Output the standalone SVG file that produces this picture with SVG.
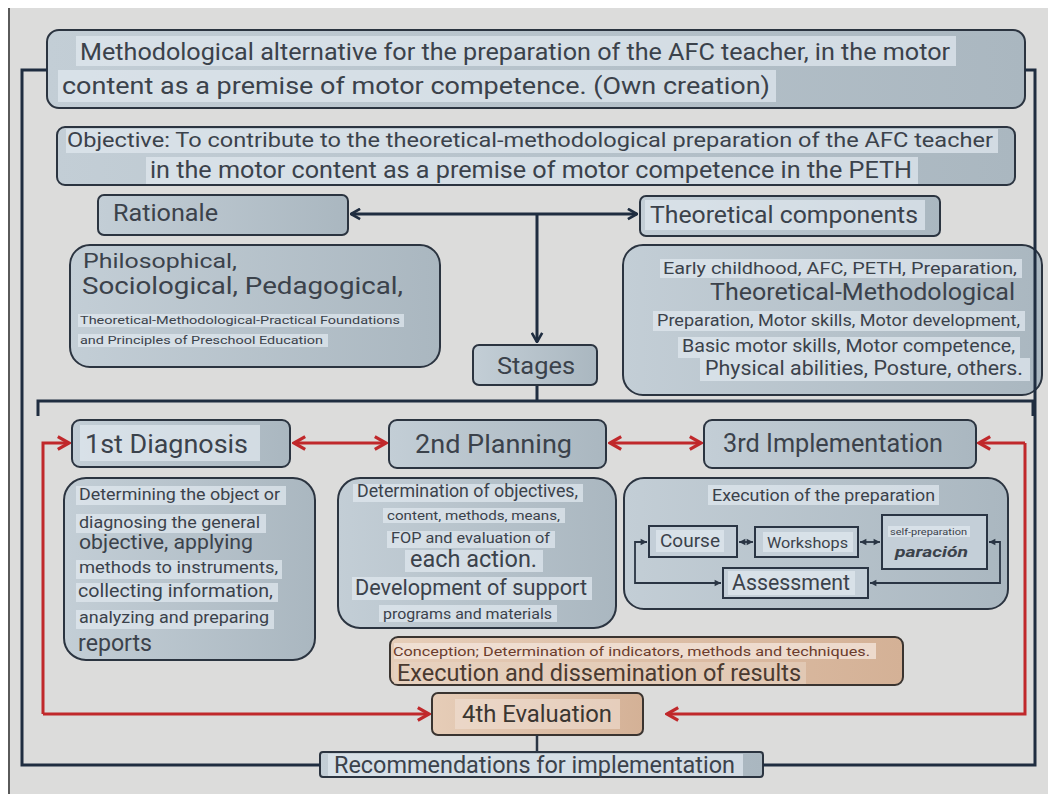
<svg xmlns="http://www.w3.org/2000/svg" width="1054" height="794" viewBox="0 0 1054 794">
<defs>
<linearGradient id="gb" x1="0" y1="0" x2="1" y2="0">
<stop offset="0" stop-color="#c3ced6"/><stop offset="1" stop-color="#aab7c0"/>
</linearGradient>
<linearGradient id="gp" x1="0" y1="0" x2="1" y2="0">
<stop offset="0" stop-color="#e6cdb8"/><stop offset="1" stop-color="#d4b196"/>
</linearGradient>
<marker id="ad" viewBox="0 0 10 10" refX="9" refY="5" markerWidth="13" markerHeight="13" orient="auto-start-reverse" markerUnits="userSpaceOnUse">
<path d="M2,1 L9,5 L2,9" fill="none" stroke="#1f2d40" stroke-width="2"/>
</marker>
<marker id="ar" viewBox="0 0 10 10" refX="9" refY="5" markerWidth="16" markerHeight="16" orient="auto-start-reverse" markerUnits="userSpaceOnUse">
<path d="M2,1 L9,5 L2,9" fill="none" stroke="#c0282b" stroke-width="2"/>
</marker>
<marker id="as" viewBox="0 0 10 10" refX="9" refY="5" markerWidth="8" markerHeight="8" orient="auto-start-reverse" markerUnits="userSpaceOnUse">
<path d="M1,1 L9,5 L1,9 Z" fill="#2a3544"/>
</marker>
</defs>
<style>
text{font-family:Roboto,"Liberation Sans",sans-serif;fill:#3b424b}
.box{fill:url(#gb);stroke:#2b3440;stroke-width:2}
.pch{fill:url(#gp);stroke:#3a3430;stroke-width:2}
.inner{fill:#c4cfd8;stroke:#2a3544;stroke-width:2}
.nav{fill:none;stroke:#1f2d40;stroke-width:3}
.red{fill:none;stroke:#c0282b;stroke-width:3}
.thin{fill:none;stroke:#2a3544;stroke-width:1.8}
.hl{fill:#dfe7ee;opacity:0.75}
.c{text-anchor:middle}
.r{text-anchor:end}
</style>
<rect x="0" y="0" width="1054" height="794" fill="#ffffff"/>
<rect x="8" y="8" width="1040" height="786" fill="#dcdcdb"/>
<line x1="9" y1="8" x2="9" y2="794" stroke="#5a5a5a" stroke-width="2"/>

<g id="title">
<rect class="box" x="47" y="30" width="978" height="78" rx="12"/>
<rect class="hl" x="76" y="36" width="880" height="30"/>
<rect class="hl" x="58" y="70" width="718" height="32"/>
<text x="80" y="60" font-size="24" textLength="870" lengthAdjust="spacingAndGlyphs">Methodological alternative for the preparation of the AFC teacher, in the motor</text>
<text x="62" y="94" font-size="24" textLength="708" lengthAdjust="spacingAndGlyphs">content as a premise of motor competence. (Own creation)</text>
</g>

<g id="objective">
<rect class="box" x="57" y="127" width="958" height="58" rx="8"/>
<rect class="hl" x="66" y="129" width="932" height="24"/>
<rect class="hl" x="146" y="157" width="772" height="27"/>
<text x="67" y="147" font-size="21" textLength="926" lengthAdjust="spacingAndGlyphs">Objective: To contribute to the theoretical-methodological preparation of the AFC teacher</text>
<text x="150" y="178" font-size="23" textLength="762" lengthAdjust="spacingAndGlyphs">in the motor content as a premise of motor competence in the PETH</text>
</g>

<g id="rationale">
<rect class="box" x="98" y="195" width="250" height="40" rx="6"/>
<text x="113" y="221" font-size="23" textLength="105" lengthAdjust="spacingAndGlyphs">Rationale</text>
</g>

<g id="theoretical-components">
<rect class="box" x="640" y="196" width="300" height="40" rx="6"/>
<rect class="hl" x="645" y="200" width="280" height="30"/>
<text x="650" y="223" font-size="23" textLength="268" lengthAdjust="spacingAndGlyphs">Theoretical components</text>
</g>

<g id="foundations">
<rect class="box" x="70" y="245" width="370" height="122" rx="20"/>
<text x="83" y="268" font-size="21" textLength="154" lengthAdjust="spacingAndGlyphs">Philosophical,</text>
<text x="82" y="294" font-size="24" textLength="321" lengthAdjust="spacingAndGlyphs">Sociological, Pedagogical,</text>
<rect class="hl" x="78" y="314" width="326" height="13"/>
<rect class="hl" x="78" y="334" width="250" height="13"/>
<text x="80" y="324" font-size="10" textLength="320" lengthAdjust="spacingAndGlyphs">Theoretical-Methodological-Practical Foundations</text>
<text x="80" y="344" font-size="10" textLength="243" lengthAdjust="spacingAndGlyphs">and Principles of Preschool Education</text>
</g>

<g id="components">
<rect class="box" x="623" y="245" width="419" height="150" rx="20"/>
<rect class="hl" x="660" y="259" width="362" height="19"/>
<rect class="hl" x="653" y="311" width="372" height="20"/>
<rect class="hl" x="678" y="337" width="342" height="21"/>
<rect class="hl" x="700" y="358" width="330" height="23"/>
<text class="r" x="1017" y="274" font-size="16" textLength="354" lengthAdjust="spacingAndGlyphs">Early childhood, AFC, PETH, Preparation,</text>
<text class="r" x="1015" y="300" font-size="23" textLength="305" lengthAdjust="spacingAndGlyphs">Theoretical-Methodological</text>
<text class="r" x="1020" y="326" font-size="17" textLength="363" lengthAdjust="spacingAndGlyphs">Preparation, Motor skills, Motor development,</text>
<text class="r" x="1015" y="352" font-size="18" textLength="333" lengthAdjust="spacingAndGlyphs">Basic motor skills, Motor competence,</text>
<text class="r" x="1023" y="375" font-size="21" textLength="318" lengthAdjust="spacingAndGlyphs">Physical abilities, Posture, others.</text>
</g>

<g id="stages">
<rect class="box" x="473" y="345" width="124" height="40" rx="6"/>
<text x="497" y="374" font-size="23" textLength="78" lengthAdjust="spacingAndGlyphs">Stages</text>
</g>

<g id="diagnosis">
<rect class="box" x="72" y="420" width="218" height="47" rx="8"/>
<rect class="hl" x="80" y="425" width="180" height="36"/>
<text x="85" y="453" font-size="26" textLength="163" lengthAdjust="spacingAndGlyphs">1st Diagnosis</text>
</g>

<g id="planning">
<rect class="box" x="389" y="420" width="217" height="48" rx="8"/>
<text x="415" y="453" font-size="26" textLength="157" lengthAdjust="spacingAndGlyphs">2nd Planning</text>
</g>

<g id="implementation">
<rect class="box" x="704" y="420" width="272" height="48" rx="8"/>
<text x="723" y="452" font-size="25" textLength="220" lengthAdjust="spacingAndGlyphs">3rd Implementation</text>
</g>

<g id="diagnosis-content">
<rect class="box" x="64" y="478" width="251" height="182" rx="22"/>
<rect class="hl" x="76" y="486" width="210" height="19"/>
<rect class="hl" x="76" y="514" width="190" height="19"/>
<rect class="hl" x="76" y="560" width="206" height="19"/>
<rect class="hl" x="76" y="583" width="202" height="19"/>
<rect class="hl" x="76" y="610" width="198" height="19"/>
<text x="79" y="500" font-size="17" textLength="201" lengthAdjust="spacingAndGlyphs">Determining the object or</text>
<text x="79" y="528" font-size="17" textLength="181" lengthAdjust="spacingAndGlyphs">diagnosing the general</text>
<text x="79" y="549" font-size="21" textLength="174" lengthAdjust="spacingAndGlyphs">objective, applying</text>
<text x="79" y="573" font-size="17" textLength="199" lengthAdjust="spacingAndGlyphs">methods to instruments,</text>
<text x="78" y="597" font-size="19" textLength="195" lengthAdjust="spacingAndGlyphs">collecting information,</text>
<text x="79" y="623" font-size="17" textLength="190" lengthAdjust="spacingAndGlyphs">analyzing and preparing</text>
<text x="78" y="651" font-size="23" textLength="74" lengthAdjust="spacingAndGlyphs">reports</text>
</g>

<g id="planning-content">
<rect class="box" x="338" y="478" width="278" height="150" rx="22"/>
<rect class="hl" x="353" y="484" width="230" height="18"/>
<rect class="hl" x="383" y="508" width="182" height="15"/>
<rect class="hl" x="387" y="531" width="168" height="17"/>
<rect class="hl" x="405" y="550" width="138" height="22"/>
<rect class="hl" x="352" y="577" width="240" height="23"/>
<rect class="hl" x="379" y="605" width="178" height="17"/>
<text x="357" y="497" font-size="18" textLength="221" lengthAdjust="spacingAndGlyphs">Determination of objectives,</text>
<text x="387" y="520" font-size="13" textLength="173" lengthAdjust="spacingAndGlyphs">content, methods, means,</text>
<text x="391" y="543" font-size="15" textLength="159" lengthAdjust="spacingAndGlyphs">FOP and evaluation of</text>
<text x="410" y="567" font-size="24" textLength="127" lengthAdjust="spacingAndGlyphs">each action.</text>
<text x="355" y="595" font-size="22" textLength="232" lengthAdjust="spacingAndGlyphs">Development of support</text>
<text x="383" y="619" font-size="14" textLength="169" lengthAdjust="spacingAndGlyphs">programs and materials</text>
</g>

<g id="implementation-content">
<rect class="box" x="624" y="478" width="384" height="131" rx="20"/>
<rect class="hl" x="708" y="485" width="231" height="20"/>
<text x="712" y="501" font-size="17" textLength="223" lengthAdjust="spacingAndGlyphs">Execution of the preparation</text>
</g>

<g id="course">
<rect class="inner" x="649" y="526" width="88" height="31"/>
<rect class="hl" x="656" y="530" width="68" height="22"/>
<text x="660" y="547" font-size="19" textLength="60" lengthAdjust="spacingAndGlyphs">Course</text>
</g>
<g id="workshops">
<rect class="inner" x="755" y="527" width="103" height="30"/>
<rect class="hl" x="763" y="532" width="90" height="20"/>
<text x="767" y="548" font-size="15" textLength="81" lengthAdjust="spacingAndGlyphs">Workshops</text>
</g>
<g id="self-preparation">
<rect class="inner" x="882" y="515" width="105" height="54"/>
<rect class="hl" x="888" y="526" width="82" height="11"/>
<text x="890" y="535" font-size="9" textLength="77" lengthAdjust="spacingAndGlyphs">self-preparation</text>
<text x="895" y="557" font-size="14" font-style="italic" font-weight="bold" textLength="73" lengthAdjust="spacingAndGlyphs">paración</text>
</g>
<g id="assessment">
<rect class="inner" x="723" y="568" width="145" height="30"/>
<rect class="hl" x="728" y="571" width="127" height="24"/>
<text x="732" y="590" font-size="22" textLength="118" lengthAdjust="spacingAndGlyphs">Assessment</text>
</g>

<g id="evaluation-content">
<rect class="pch" x="390" y="637" width="513" height="48" rx="8"/>
<rect x="394" y="643" width="482" height="16" fill="#f2e4da" opacity="0.8"/>
<rect x="394" y="662" width="412" height="22" fill="#e8d3c3" opacity="0.6"/>
<text x="393" y="656" font-size="13" style="fill:#6b3c2c" textLength="477" lengthAdjust="spacingAndGlyphs">Conception; Determination of indicators, methods and techniques.</text>
<text x="397" y="681" font-size="23" style="fill:#4a3a30" textLength="404" lengthAdjust="spacingAndGlyphs">Execution and dissemination of results</text>
</g>

<g id="evaluation">
<rect class="pch" x="432" y="693" width="211" height="42" rx="6"/>
<rect x="455" y="699" width="165" height="30" fill="#f0dfd3" opacity="0.6"/>
<text x="462" y="722" font-size="23" style="fill:#3b3631" textLength="150" lengthAdjust="spacingAndGlyphs">4th Evaluation</text>
</g>

<g id="recommendations">
<rect class="box" x="320" y="752" width="443" height="25" rx="3"/>
<rect class="hl" x="328" y="754" width="415" height="22"/>
<text x="334" y="773" font-size="23" textLength="401" lengthAdjust="spacingAndGlyphs">Recommendations for implementation</text>
</g>

<g id="connectors">
<polyline class="nav" points="47,70 22,70 22,765 320,765"/>
<polyline class="nav" points="763,765 1035,765 1035,70 1025,70"/>
<line class="nav" x1="351" y1="214" x2="637" y2="214" marker-start="url(#ad)" marker-end="url(#ad)"/>
<line class="nav" x1="537" y1="214" x2="537" y2="342" marker-end="url(#ad)"/>
<polyline class="nav" points="537,386 537,401"/>
<polyline class="nav" points="38,416 38,401 1033,401 1033,416"/>
<line class="red" x1="294" y1="443" x2="386" y2="443" marker-start="url(#ar)" marker-end="url(#ar)"/>
<line class="red" x1="610" y1="443" x2="701" y2="443" marker-start="url(#ar)" marker-end="url(#ar)"/>
<polyline class="red" points="1025,443 979,443" marker-end="url(#ar)"/>
<polyline class="red" points="1025,443 1025,714 667,714" marker-end="url(#ar)"/>
<polyline class="red" points="43,714 43,443 69,443" marker-end="url(#ar)"/>
<polyline class="red" points="43,714 429,714" marker-end="url(#ar)"/>
<line x1="537" y1="735" x2="537" y2="752" stroke="#2a3544" stroke-width="2.5"/>
<line class="thin" x1="739" y1="542" x2="753" y2="542" marker-start="url(#as)" marker-end="url(#as)"/>
<line class="thin" x1="860" y1="542" x2="880" y2="542" marker-start="url(#as)" marker-end="url(#as)"/>
<polyline class="thin" points="647,542 635,542 635,583 721,583" marker-start="url(#as)" marker-end="url(#as)"/>
<polyline class="thin" points="989,542 1000,542 1000,583 870,583" marker-start="url(#as)" marker-end="url(#as)"/>
</g>
</svg>
